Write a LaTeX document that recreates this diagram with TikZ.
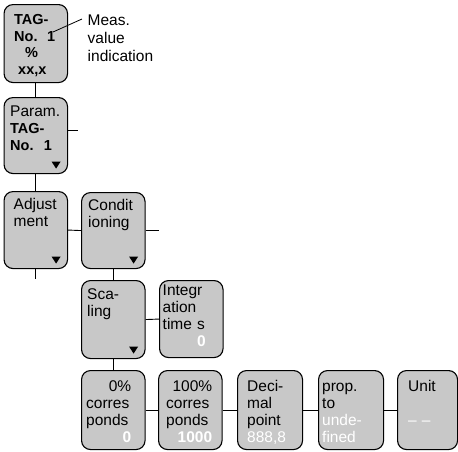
\documentclass[tikz,border=0pt]{standalone}
\usepackage{fontspec}
\setmainfont{Liberation Sans}
\usetikzlibrary{calc}
\definecolor{boxgray}{RGB}{200,200,200}
\begin{document}
\begin{tikzpicture}[x=1pt,y=-1pt,
  box/.style={draw, fill=boxgray, line width=1.1pt, rounded corners=9pt, anchor=north west, inner sep=0pt, minimum width=63.5pt, minimum height=78pt},
  txt/.style={anchor=north west, inner sep=0pt, align=left, text width=58pt, font=\fontsize{15.5}{17}\selectfont},
  conn/.style={line width=0.9pt},
  tri/.style={fill=black}]
\useasboundingbox (0,0) rectangle (458,451);

% boxes
\node[box, minimum height=78pt] (b1) at (3.5,4) {};
\node[box, minimum height=76pt] (b2) at (3.5,97) {};
\node[box, minimum height=77pt] (b3) at (3.5,191) {};
\node[box, minimum height=76pt] (b4) at (81,192) {};
\node[box, minimum height=78pt] (b5) at (81,280) {};
\node[box, minimum height=77pt] (b6) at (159,280) {};
\node[box, minimum height=79pt] (b7) at (81,370) {};
\node[box, minimum height=79pt] (b8) at (158,370) {};
\node[box, minimum height=79pt, minimum width=65pt] (b9) at (237,370) {};
\node[box, minimum height=79pt, minimum width=65pt] (b10) at (318,370) {};
\node[box, minimum height=79pt, minimum width=60pt] (b11) at (397,370) {};

% texts
\node[txt, font=\fontsize{14.5}{16.5}\selectfont\bfseries] (t1) at ($(b1.north west)+(10.5,10.6)$)
  {TAG-\\No.\ \ 1\\\hspace*{11pt}\%\\\hspace*{4pt}xx,x};
\node[txt] (t2) at ($(b2.north west)+(6.5,8.6)$) {Param.\\\textbf{\fontsize{14.5}{17}\selectfont TAG-}\\\textbf{\fontsize{14.5}{17}\selectfont No.\ \ 1}};
\node[txt] (t3) at ($(b3.north west)+(10,7.5)$) {Adjust\\ment};
\node[txt] (t4) at ($(b4.north west)+(7,7.5)$) {Condit\\ioning};
\node[txt] (t5) at ($(b5.north west)+(6,8.5)$) {Sca-\\ling};
\node[txt, text width=43pt] (t6) at ($(b6.north west)+(3.5,5)$)
  {Integr\\ation\\time s\\\hspace*{0pt plus 1filll}\textcolor{white}{\textbf{0}}\hspace*{2pt}};
\node[txt, text width=45pt] (t7) at ($(b7.north west)+(5,10.5)$)
  {\hspace*{0pt plus 1filll}0\%\\corres\\ponds\\\hspace*{0pt plus 1filll}\textcolor{white}{\textbf{0}}\hspace*{3pt}};
\node[txt, text width=46pt] (t8) at ($(b8.north west)+(8,10.5)$)
  {\hspace*{0pt plus 1filll}100\%\\corres\\ponds\\\hspace*{0pt plus 1filll}\textcolor{white}{\textbf{1000}}\hspace*{2pt}};
\node[txt] (t9) at ($(b9.north west)+(10,10.5)$) {Deci-\\mal\\point\\\textcolor{white}{888,8}};
\node[txt] (t10) at ($(b10.north west)+(4,13)$) {prop.\\to\\\textcolor{white}{unde-}\\\textcolor{white}{fined}};
\node[txt] (t11) at ($(b11.north west)+(11,10.5)$) {Unit\\\mbox{}\\\textcolor{white}{--\ --}};

% callout
\node[txt, text width=90pt, font=\fontsize{15.5}{18}\selectfont] (t0) at (87.5,15) {Meas.\\value\\indication};
\coordinate (ca) at (53,32);
\coordinate (cb) at (82,19);
\draw[line width=0.8pt] (ca) -- (cb);

% triangles
\foreach \b in {b2,b3,b4,b5}{
  \fill[tri] ($(\b.south east)+(-16.5,-12.5)$) -- ++(9,0) -- ++(-4.5,7) -- cycle;
}

% connectors
\draw[conn] (b1.south) -- (b2.north);
\coordinate (s2a) at (67.5,130);
\coordinate (s2b) at (77.5,130);
\draw[conn] (s2a) -- (s2b);
\draw[conn] (b2.south) -- (b3.north);
\draw[conn] (b3.east) -- (b4.west);
\coordinate (s3) at ($(b3.south)+(0,10)$);
\draw[conn] (b3.south) -- (s3);
\coordinate (s4) at ($(b4.east)+(13.5,0)$);
\draw[conn] (b4.east) -- (s4);
\draw[conn] (b4.south) -- (b5.north);
\draw[conn] (b5.east) -- (b6.west);
\draw[conn] (b5.south) -- (b7.north);
\draw[conn] (b7.east) -- (b8.west);
\draw[conn] (b8.east) -- (b9.west);
\draw[conn] (b9.east) -- (b10.west);
\draw[conn] (b10.east) -- (b11.west);
\end{tikzpicture}
\end{document}
